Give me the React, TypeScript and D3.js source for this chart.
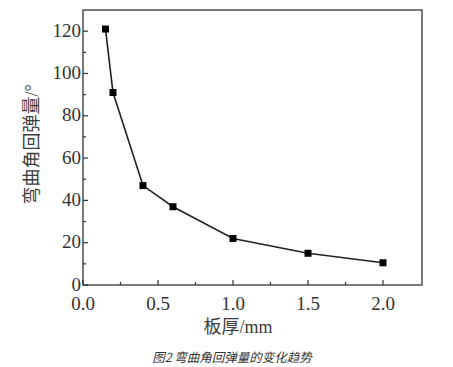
import React from "react";
import * as d3 from "d3";

const thickness = [0.15, 0.2, 0.4, 0.6, 1.0, 1.5, 2.0];
const springback = [121, 91, 47, 37, 22, 15, 10.5];
const xTicks = [0.0, 0.5, 1.0, 1.5, 2.0];
const xMinor = [0.25, 0.75, 1.25, 1.75];
const yTicks = [0, 20, 40, 60, 80, 100, 120];
const yMinor = [10, 30, 50, 70, 90, 110];

const W = 453, H = 367;
const L = 83, R = 422, T = 10, B = 285;

export default function App() {
  const x = d3.scaleLinear().domain([0, 2.26]).range([L, R]);
  const y = d3.scaleLinear().domain([0, 130]).range([B, T]);
  const pts = thickness.map((t, i) => [x(t), y(springback[i])] as [number, number]);
  const line = d3.line()(pts) || "";
  const serif = "'Liberation Serif'";
  const cjk = "'Liberation Serif', 'Noto Sans CJK SC'";
  const ink = "#333";
  return (
    <svg width={W} height={H} style={{ position: "absolute", left: 0, top: 0, background: "#fff" }}>
      <rect x={L} y={T} width={R - L} height={B - T} fill="none" stroke={ink} strokeWidth={1.3} />
      {xTicks.map((t) => (
        <g key={"x" + t}>
          <line x1={x(t)} x2={x(t)} y1={B} y2={B - 5} stroke={ink} strokeWidth={1.2} />
          <text x={x(t)} y={B + 25} textAnchor="middle" style={{ fontFamily: serif, fontSize: 19 }} fill={ink}>
            {t.toFixed(1)}
          </text>
        </g>
      ))}
      {xMinor.map((t) => (
        <line key={"xm" + t} x1={x(t)} x2={x(t)} y1={B} y2={B - 3} stroke={ink} strokeWidth={1.2} />
      ))}
      {yTicks.map((t) => (
        <g key={"y" + t}>
          <line x1={L} x2={L + 5} y1={y(t)} y2={y(t)} stroke={ink} strokeWidth={1.2} />
          <text x={L - 2} y={y(t) + 5.5} textAnchor="end" style={{ fontFamily: serif, fontSize: 19 }} fill={ink}>
            {t}
          </text>
        </g>
      ))}
      {yMinor.map((t) => (
        <line key={"ym" + t} x1={L} x2={L + 3} y1={y(t)} y2={y(t)} stroke={ink} strokeWidth={1.2} />
      ))}
      <path d={line} fill="none" stroke="#222" strokeWidth={1.6} />
      {pts.map((p, i) => (
        <rect key={"p" + i} x={p[0] - 3.5} y={p[1] - 3.5} width={7} height={7} fill="#000" />
      ))}
      <text
        transform={`translate(38, ${(T + B) / 2 - 3}) rotate(-90)`}
        textAnchor="middle"
        style={{ fontFamily: cjk, fontSize: 18 }}
        fill="#3c3c3c"
      >
        弯曲角回弹量/°
      </text>
      <text x={238} y={333} textAnchor="middle" style={{ fontFamily: cjk, fontSize: 18 }} fill="#3c3c3c">
        板厚/mm
      </text>
      <text x={232} y={362} textAnchor="middle" style={{ fontFamily: "'Noto Sans CJK SC'", fontSize: 12.5, fontStyle: "italic" }} fill="#333">
        图2 弯曲角回弹量的变化趋势
      </text>
    </svg>
  );
}
